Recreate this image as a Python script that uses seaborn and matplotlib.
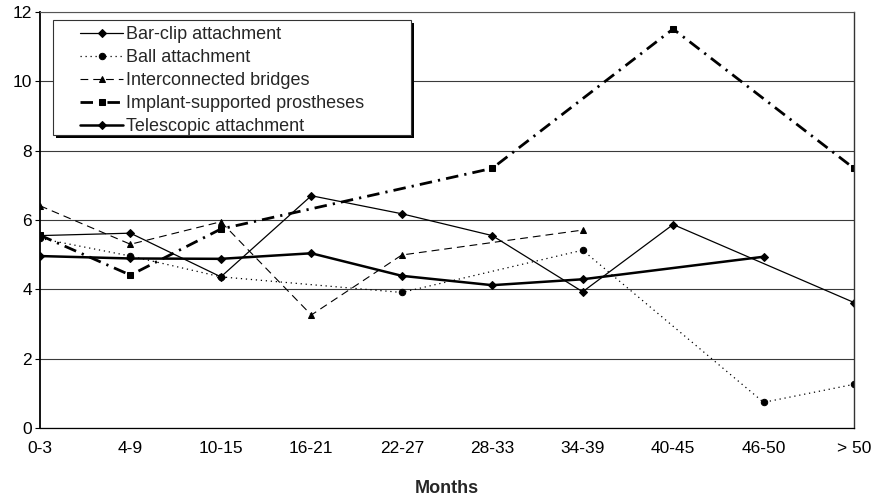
import numpy as np
import pandas as pd
import matplotlib
matplotlib.use("Agg")
import matplotlib.pyplot as plt
from matplotlib.patches import Rectangle
import seaborn as sns

sns.set_theme(style="white")
plt.rcParams["font.family"] = ["Liberation Sans", "DejaVu Sans"]

months = ["0-3", "4-9", "10-15", "16-21", "22-27", "28-33", "34-39", "40-45", "46-50", "> 50"]
nan = np.nan

bar_clip = [5.55, 5.62, 4.36, 6.70, 6.18, 5.55, 3.93, 5.87, nan, 3.62]
ball = [5.47, 4.96, 4.36, nan, 3.91, nan, 5.13, nan, 0.74, 1.26]
bridges = [6.41, 5.30, 5.95, 3.26, 4.99, nan, 5.71, nan, nan, nan]
implant = [5.56, 4.41, 5.74, nan, nan, 7.49, nan, 11.51, nan, 7.49]
telescopic = [4.96, 4.89, 4.88, 5.04, 4.39, 4.12, 4.29, nan, 4.94, nan]

series = [
    ("Bar-clip attachment", bar_clip,
     dict(linestyle="-", linewidth=0.9, marker="D", markersize=3.6)),
    ("Ball attachment", ball,
     dict(linestyle=(0, (1, 3)), linewidth=0.9, marker="o", markersize=4.6)),
    ("Interconnected bridges", bridges,
     dict(linestyle=(0, (7, 4.5)), linewidth=0.8, marker="^", markersize=5)),
    ("Implant-supported prostheses", implant,
     dict(linestyle=(0, (4.5, 2.2, 0.8, 2.2)), linewidth=2.0, marker="s", markersize=4.4)),
    ("Telescopic attachment", telescopic,
     dict(linestyle="-", linewidth=1.8, marker="D", markersize=3.6)),
]

W, H = 873, 498
fig = plt.figure(figsize=(W / 100, H / 100), dpi=100)
ax_l, ax_r, ax_t, ax_b = 40, 854, 12, 428
ax = fig.add_axes([ax_l / W, 1 - ax_b / H, (ax_r - ax_l) / W, (ax_b - ax_t) / H])
aw, ah = ax_r - ax_l, ax_b - ax_t


def axx(px):
    return (px - ax_l) / aw


def axy(py):
    return 1 - (py - ax_t) / ah


pos = np.arange(len(months))
for name, values, style in series:
    df = pd.DataFrame({"pos": pos, "value": values}).dropna()
    sns.lineplot(data=df, x="pos", y="value", ax=ax, color="black",
                 markeredgecolor="black", markerfacecolor="black",
                 label=name, **style)

ax.set_xlim(0, len(months) - 1)
ax.set_ylim(0, 12)
ax.set_yticks(range(0, 13, 2))
ax.set_xticks(pos)
ax.set_xticklabels(months)
ax.set_ylabel("")
ax.set_xlabel("Months", fontsize=13, fontweight="bold", va="top")
ax.xaxis.set_label_coords(0.5, axy(480))

ax.yaxis.grid(True, color="#3a3a3a", linewidth=0.8)
ax.set_axisbelow(True)
for side in ["left", "bottom"]:
    ax.spines[side].set_color("black")
ax.spines["left"].set_linewidth(1.3)
ax.spines["bottom"].set_linewidth(0.9)
ax.spines["right"].set_color("#333333")
ax.spines["right"].set_linewidth(1.0)
ax.spines["top"].set_color("#555555")
ax.spines["top"].set_linewidth(0.8)

ax.tick_params(axis="x", direction="in", length=4, width=0.8, color="#444444",
               labelsize=12.5, pad=9)
ax.tick_params(axis="y", direction="out", length=3.6, width=0.8, color="black",
               labelsize=12.5, pad=2, left=True)
for lab in ax.get_xticklabels() + ax.get_yticklabels():
    lab.set_color("black")

# legend entries without their own frame; the boxed panel is drawn separately
leg = ax.legend(loc="upper left", bbox_to_anchor=(axx(80), axy(26)), borderaxespad=0,
                frameon=False, fontsize=13, handlelength=2.4, handletextpad=0.17,
                labelspacing=0.33, borderpad=0, numpoints=1)
leg.set_zorder(6)

bx0, bx1, by0, by1 = 53, 411, 20, 135
shadow = Rectangle((axx(bx0 + 3), axy(by1 + 3)), axx(bx1 + 3) - axx(bx0 + 3),
                   axy(by0 + 3) - axy(by1 + 3), transform=ax.transAxes,
                   facecolor="black", edgecolor="none", zorder=4.8)
panel = Rectangle((axx(bx0), axy(by1)), axx(bx1) - axx(bx0), axy(by0) - axy(by1),
                  transform=ax.transAxes, facecolor="white", edgecolor="#333333",
                  linewidth=0.8, zorder=4.9)
ax.add_patch(shadow)
ax.add_patch(panel)

fig.savefig("out.png", dpi=100)
